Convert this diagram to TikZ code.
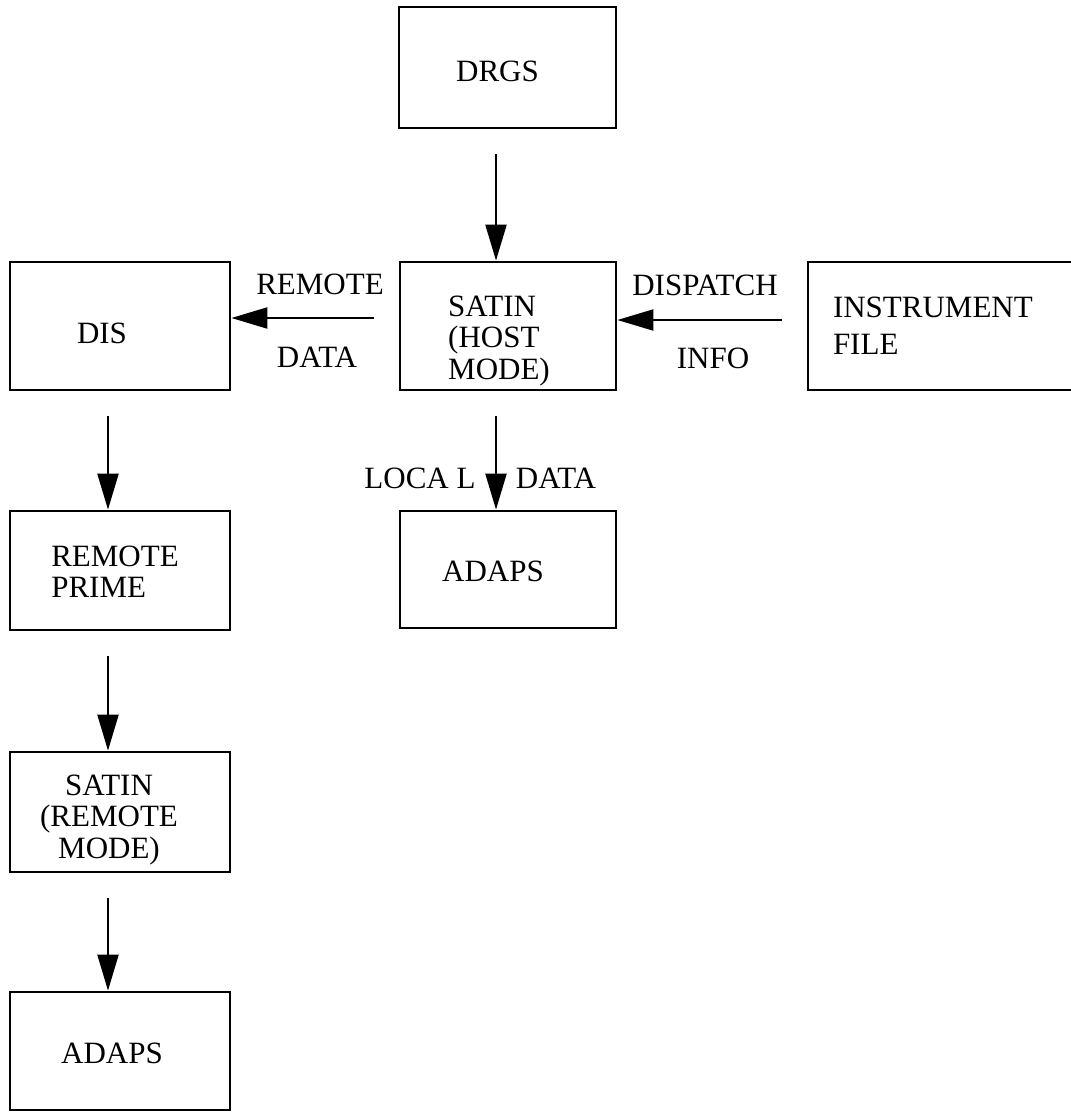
\documentclass[tikz,border=0pt]{standalone}
\usepackage{fontspec}
\setmainfont{Liberation Serif}
\usetikzlibrary{arrows.meta}
\begin{document}
\begin{tikzpicture}[x=1pt,y=-1pt,
  box/.style={draw, line width=2.8pt, inner sep=0pt},
  txt/.style={inner sep=0pt, font=\fontsize{31}{31.5}\selectfont},
  lbl/.style={inner sep=0pt, font=\fontsize{31}{33}\selectfont},
  arr/.style={line width=2.2pt, -{Triangle[length=36pt,width=21pt]}, shorten <=25pt}]
\useasboundingbox (0,0) rectangle (1071,1112);
% boxes
\node[box, minimum width=217pt, minimum height=121pt,
  label={[txt, xshift=-10pt, yshift=-4pt]center:DRGS}] (drgs) at (507.5,67.5) {};
\node[box, minimum width=216pt, minimum height=128pt,
  label={[txt, align=left, xshift=-9pt, yshift=-15pt]center:{SATIN\\(HOST\\MODE)}}] (satin) at (508,326) {};
\node[box, minimum width=220pt, minimum height=128pt,
  label={[txt, xshift=-18pt, yshift=-7pt]center:DIS}] (dis) at (120,326) {};
\node[box, minimum height=128pt, inner xsep=25pt, text width=220pt, align=left,
  font=\fontsize{31}{37}\selectfont] (instr) at (943,326) {INSTRUMENT\\FILE};
\node[box, minimum width=216pt, minimum height=117pt,
  label={[txt, xshift=-15pt, yshift=-2pt]center:ADAPS}] (adapsm) at (508,569.5) {};
\node[box, minimum width=220pt, minimum height=119pt,
  label={[txt, align=left, xshift=-5pt, yshift=-1pt]center:{REMOTE\\PRIME}}] (rprime) at (120,570.5) {};
\node[box, minimum width=220pt, minimum height=120pt,
  label={[txt, align=center, xshift=-11pt, yshift=-8pt]center:{SATIN\\(REMOTE\\MODE)}}] (satinr) at (120,812) {};
\node[box, minimum width=220pt, minimum height=118pt,
  label={[txt, xshift=-8pt, yshift=-2pt]center:ADAPS}] (adapsl) at (120,1051) {};
% column / row guides
\coordinate (cL) at (108,0);
\coordinate (cM) at (496,0);
\coordinate (rA) at (0,318);
\coordinate (rB) at (0,320);
% connectors
\draw[arr] (drgs.south -| cM) -- (satin.north -| cM);
\draw[arr] (satin.west |- rA) -- (dis.east |- rA);
\draw[arr] (instr.west |- rB) -- (satin.east |- rB);
\draw[arr] (satin.south -| cM) -- (adapsm.north -| cM);
\draw[arr] (dis.south -| cL) -- (rprime.north -| cL);
\draw[arr] (rprime.south -| cL) -- (satinr.north -| cL);
\draw[arr] (satinr.south -| cL) -- (adapsl.north -| cL);
% labels
\node[lbl] (lremote) at (320,284) {REMOTE};
\node[lbl] (ldata) at (317,357) {DATA};
\node[lbl] (ldispatch) at (705,285) {DISPATCH};
\node[lbl] (linfo) at (713,358) {INFO};
\node[lbl] (llocal) at (420,478) {LOCA L};
\node[lbl] (ldata2) at (556,478) {DATA};
\end{tikzpicture}
\end{document}
